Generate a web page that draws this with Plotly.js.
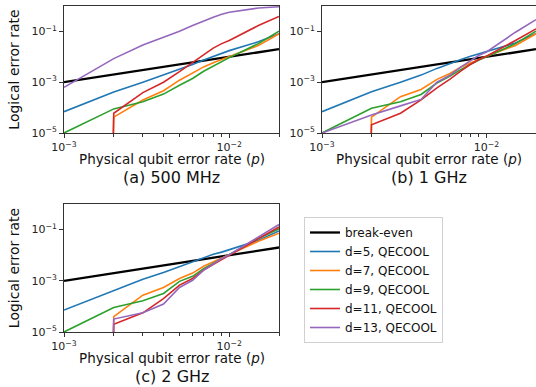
<!DOCTYPE html>
<html>
<head>
<meta charset="utf-8">
<script src="https://cdn.plot.ly/plotly-3.0.1.min.js"></script>
<style>html,body{margin:0;padding:0;background:#fff;}#chart{width:536px;height:387px;}</style>
</head>
<body>
<div id="chart"></div>
<script>
// Physical qubit error rate (x)
const p = [0.001, 0.002, 0.003, 0.004, 0.005, 0.006, 0.007, 0.008, 0.009, 0.01, 0.015, 0.02];
// break-even: logical error rate equals physical error rate
const breakEven = [0.001, 0.002, 0.003, 0.004, 0.005, 0.006, 0.007, 0.008, 0.009, 0.01, 0.015, 0.02];

const seriesNames = ["d=5, QECOOL", "d=7, QECOOL", "d=9, QECOOL", "d=11, QECOOL", "d=13, QECOOL"];
const panelLabels = ["(a) 500 MHz", "(b) 1 GHz", "(c) 2 GHz"];
const xTitle = "Physical qubit error rate (<i>p</i>)";
const yTitle = "Logical error rate";
const xTickVals = [0.001, 0.01];
const xTickText = ["10<sup>\u22123</sup>", "10<sup>\u22122</sup>"];
const yTickVals = [1e-5, 1e-3, 1e-1];
const yTickText = ["10<sup>\u22125</sup>", "10<sup>\u22123</sup>", "10<sup>\u22121</sup>"];

// (a) 500 MHz  (0 = no logical error observed)
const a_d5  = [6.9e-5, 4.1e-4, 1.0e-3, 1.9e-3, 3.2e-3, 5.0e-3, 7.4e-3, 1.0e-2, 1.33e-2, 1.75e-2, 3.9e-2, 8.1e-2];
const a_d7  = [0, 4.2e-5, 2.0e-4, 4.6e-4, 1.2e-3, 2.3e-3, 4.0e-3, 5.8e-3, 7.8e-3, 1.05e-2, 2.8e-2, 8.1e-2];
const a_d9  = [1.0e-5, 8.9e-5, 1.7e-4, 3.4e-4, 7.6e-4, 1.4e-3, 2.7e-3, 4.4e-3, 6.6e-3, 9.3e-3, 3.3e-2, 0.102];
const a_d11 = [0, 6.0e-5, 3.9e-4, 1.0e-3, 2.6e-3, 5.9e-3, 1.25e-2, 2.2e-2, 3.3e-2, 4.4e-2, 0.17, 0.39];
const a_d13 = [6.3e-4, 8.5e-3, 2.9e-2, 5.8e-2, 0.102, 0.17, 0.26, 0.36, 0.47, 0.57, 0.83, 0.93];

// (b) 1 GHz
const b_d5  = [6.9e-5, 4.2e-4, 1.0e-3, 1.9e-3, 3.5e-3, 5.6e-3, 7.9e-3, 1.05e-2, 1.33e-2, 1.66e-2, 3.5e-2, 8.3e-2];
const b_d7  = [0, 4.2e-5, 2.7e-4, 5.2e-4, 1.29e-3, 2.2e-3, 4.0e-3, 5.8e-3, 7.8e-3, 1.05e-2, 2.8e-2, 8.1e-2];
const b_d9  = [1.0e-5, 9.5e-5, 1.7e-4, 3.3e-4, 9.3e-4, 1.74e-3, 3.2e-3, 5.1e-3, 7.4e-3, 1.0e-2, 3.3e-2, 0.102];
const b_d11 = [0, 2.1e-5, 6.0e-5, 2.0e-4, 6.0e-4, 1.32e-3, 2.8e-3, 5.1e-3, 7.8e-3, 1.05e-2, 4.4e-2, 0.126];
const b_d13 = [1.0e-5, 5.1e-5, 1.17e-4, 2.1e-4, 1.0e-3, 1.9e-3, 4.0e-3, 7.2e-3, 1.15e-2, 1.55e-2, 9.3e-2, 0.29];

// (c) 2 GHz
const c_d5  = [7.2e-5, 4.3e-4, 1.15e-3, 2.1e-3, 3.5e-3, 5.5e-3, 8.0e-3, 1.08e-2, 1.32e-2, 1.66e-2, 3.8e-2, 8.9e-2];
const c_d7  = [0, 4.0e-5, 2.75e-4, 5.5e-4, 1.23e-3, 2.0e-3, 3.7e-3, 5.5e-3, 7.8e-3, 1.0e-2, 3.5e-2, 7.2e-2];
const c_d9  = [1.0e-5, 9.1e-5, 1.66e-4, 3.2e-4, 9.5e-4, 1.5e-3, 3.0e-3, 4.7e-3, 7.4e-3, 1.05e-2, 4.5e-2, 0.107];
const c_d11 = [0, 2.0e-5, 5.6e-5, 2.0e-4, 6.8e-4, 1.23e-3, 2.6e-3, 4.5e-3, 6.8e-3, 1.0e-2, 4.5e-2, 0.126];
const c_d13 = [0, 3.2e-5, 5.6e-5, 1.23e-4, 5.5e-4, 1.05e-3, 2.6e-3, 4.7e-3, 7.4e-3, 1.05e-2, 5.1e-2, 0.158];

const panels = [
  [a_d5, a_d7, a_d9, a_d11, a_d13],
  [b_d5, b_d7, b_d9, b_d11, b_d13],
  [c_d5, c_d7, c_d9, c_d11, c_d13]
];

const colors = ["#1f77b4", "#ff7f0e", "#2ca02c", "#d62728", "#9467bd"];
const FONT = "DejaVu Sans, Liberation Sans, sans-serif";
const W = 536, H = 387;
// like matplotlib's log scale: non-positive values are clipped to a tiny value
const clipLog = v => (v > 0 ? v : 1e-100);

const boxes = [ // pixel boxes of the three plot areas [left, right, top, bottom]
  [64, 279, 6, 133],
  [322, 536, 6, 133],
  [64, 279, 204, 332]
];

const traces = [];
const layout = {
  width: W, height: H,
  margin: {l: 0, r: 0, t: 0, b: 0},
  paper_bgcolor: "#fff", plot_bgcolor: "#fff",
  font: {family: FONT, color: "#000"},
  showlegend: true,
  legend: {
    x: 304 / W, y: 1 - 217 / H, xanchor: "left", yanchor: "top",
    bordercolor: "#d0d0d0", borderwidth: 1, bgcolor: "#fff",
    font: {family: FONT, size: 12, color: "#111"},
    tracegroupgap: 0
  },
  annotations: []
};

panels.forEach((series, i) => {
  const xa = "x" + (i ? i + 1 : ""), ya = "y" + (i ? i + 1 : "");
  traces.push({
    x: p, y: breakEven, xaxis: xa, yaxis: ya, type: "scatter", mode: "lines",
    name: "break-even", legendgroup: "be", showlegend: i === 0,
    line: {color: "#000", width: 2.3}
  });
  series.forEach((vals, k) => {
    traces.push({
      x: p, y: vals.map(clipLog), xaxis: xa, yaxis: ya, type: "scatter", mode: "lines",
      name: seriesNames[k], legendgroup: "s" + k, showlegend: i === 0,
      line: {color: colors[k], width: 1.6}
    });
  });
  const b = boxes[i];
  const axCommon = {
    type: "log", showgrid: false, zeroline: false, showline: true, mirror: true,
    linecolor: "#333", linewidth: 1, ticks: "outside", tickcolor: "#333", ticklen: 4,
    automargin: false, tickmode: "array",
    tickfont: {family: FONT, size: 11, color: "#222"}
  };
  layout["xaxis" + (i ? i + 1 : "")] = Object.assign({}, axCommon, {
    domain: [b[0] / W, b[1] / W], anchor: ya,
    range: [-3, Math.log10(0.02)], tickvals: xTickVals, ticktext: xTickText,
    minor: {tickmode: "array", tickvals: [0.002, 0.003, 0.004, 0.005, 0.006, 0.007, 0.008, 0.009, 0.02],
            ticks: "outside", ticklen: 2.5, tickcolor: "#333", showgrid: false}
  });
  const yax = Object.assign({}, axCommon, {
    domain: [1 - b[3] / H, 1 - b[2] / H], anchor: xa,
    range: [-5, 0], tickvals: yTickVals, ticktext: yTickText
  });
  if (i !== 1) yax.title = {text: yTitle, font: {family: FONT, size: 14, color: "#111"}, standoff: 8};
  layout["yaxis" + (i ? i + 1 : "")] = yax;
  const cx = (b[0] + b[1]) / 2 / W;
  layout.annotations.push({
    text: xTitle, xref: "paper", yref: "paper",
    x: cx, y: 1 - (b[3] + 25.5) / H,
    xanchor: "center", yanchor: "middle", showarrow: false,
    font: {family: FONT, size: 13.5, color: "#111"}
  });
  layout.annotations.push({
    text: panelLabels[i], xref: "paper", yref: "paper",
    x: cx, y: 1 - (b[3] + 44.5) / H,
    xanchor: "center", yanchor: "middle", showarrow: false,
    font: {family: FONT, size: 16, color: "#111"}
  });
});

Plotly.newPlot("chart", traces, layout, {displayModeBar: false, staticPlot: true});
</script>
</body>
</html>
